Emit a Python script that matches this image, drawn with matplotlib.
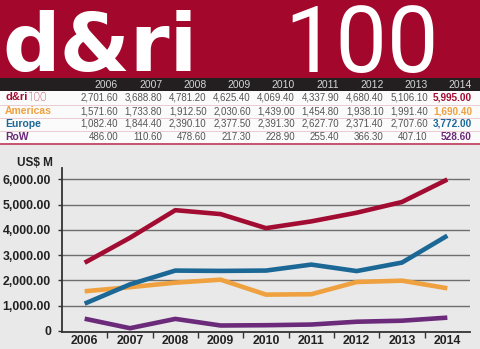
import numpy as np
import matplotlib.pyplot as plt
from matplotlib.patches import Rectangle
from matplotlib.ticker import FixedLocator, FuncFormatter

# Data (US$ M)
years = [2006, 2007, 2008, 2009, 2010, 2011, 2012, 2013, 2014]
dari = [2701.60, 3688.80, 4781.20, 4625.40, 4069.40, 4337.90, 4680.40, 5106.10, 5995.00]
americas = [1571.60, 1733.80, 1912.50, 2030.60, 1439.00, 1454.80, 1938.10, 1991.40, 1690.40]
europe = [1082.40, 1844.40, 2390.10, 2377.50, 2391.30, 2627.70, 2371.40, 2707.60, 3772.00]
rest = [486.00, 110.60, 478.60, 217.30, 228.90, 255.40, 366.30, 407.10, 528.60]

row_names = ["d&ri", "Americas", "Europe", "RoW"]
series = [dari, americas, europe, rest]
colors = ["#a30c32", "#efa13f", "#1b6896", "#6b2a7a"]

BANNER = "#a3082c"
DARK = "#231f20"
CHART_BG = "#e9e9e9"

fig = plt.figure(figsize=(4.8, 3.49), dpi=100)
fig.patch.set_facecolor(CHART_BG)

# background axes in pixel coords for the banner and table
bg = fig.add_axes([0, 0, 1, 1])
bg.set_xlim(0, 480)
bg.set_ylim(349, 0)
bg.axis("off")

bg.add_patch(Rectangle((0, 0), 480, 78, color=BANNER, lw=0))
bg.text(2, 71, "d&ri", color="white", fontsize=58, fontweight="heavy",
        family="DejaVu Sans", va="baseline", ha="left")
bg.text(362, 72, "100", color="white", fontsize=66, fontweight="normal",
        family=["Roboto", "DejaVu Sans"], va="baseline", ha="center")

# header band
bg.add_patch(Rectangle((0, 78), 480, 13, color=DARK, lw=0))
# table rows
bg.add_patch(Rectangle((0, 91), 480, 52, color="#fbfbfb", lw=0))
row_top = [91, 104.5, 117.5, 130.5]
for y in row_top[1:]:
    bg.plot([0, 480], [y, y], color="#e8c4cc", lw=0.6)
bg.plot([0, 480], [143.5, 143.5], color="#c23a5a", lw=1.2)

col_right = [118 + i * 44.25 for i in range(len(years))]
for x, yr in zip(col_right, years):
    bg.text(x, 85, str(yr), color="#d6d6d6", fontsize=7.5,
            family="Liberation Sans", ha="right", va="center")

for r, (name, vals, c) in enumerate(zip(row_names, series, colors)):
    yc = row_top[r] + 6.5
    if r == 0:
        bg.text(5, yc, name, color=c, fontsize=8, fontweight="bold",
                family="Liberation Sans", ha="left", va="center")
        bg.text(28, yc, "100", color=c, fontsize=8.5, fontweight="light",
                family=["Roboto", "DejaVu Sans"], ha="left", va="center")
    else:
        bg.text(5, yc, name, color=c, fontsize=7.5, fontweight="bold",
                family="Liberation Sans", ha="left", va="center")
    for i, (x, v) in enumerate(zip(col_right, vals)):
        last = i == len(vals) - 1
        bg.text(x, yc, f"{v:,.2f}", color=c if last else "#555555",
                fontsize=7 if not last else 7.2,
                fontweight="bold" if last else "normal",
                family="Liberation Sans", ha="right", va="center")

# line chart
ax = fig.add_axes([62 / 480, 17 / 349, 408 / 480, 164 / 349])
ax.set_facecolor(CHART_BG)
x = np.arange(len(years))
ax.set_xlim(-0.5, len(years) - 0.5)
ax.set_ylim(-40, 6450)

for g in range(1000, 7000, 1000):
    ax.axhline(g, color="#6e6e6e", lw=1.0, zorder=1)

for vals, c in zip(series, colors):
    ax.plot(x, vals, color=c, lw=3.3, solid_capstyle="butt",
            solid_joinstyle="round", zorder=3)

ax.set_xticks(x)
ax.set_xticklabels([str(y) for y in years])
ax.xaxis.set_minor_locator(FixedLocator(np.arange(0.5, len(years) - 1, 1)))
ax.tick_params(axis="x", which="major", length=0, pad=2)
ax.tick_params(axis="x", which="minor", length=4, direction="out",
               color="#333333", width=1)

ax.set_yticks(range(0, 7000, 1000))
ax.yaxis.set_major_formatter(FuncFormatter(
    lambda v, p: "0" if v == 0 else f"{v:,.2f}"))
ax.tick_params(axis="y", length=3, direction="out", color="#333333",
               width=1, pad=5)

for lab in ax.get_xticklabels() + ax.get_yticklabels():
    lab.set_family("Liberation Sans")
    lab.set_fontweight("bold")
    lab.set_fontsize(8.8)
    lab.set_color("#222222")

for s in ["top", "right"]:
    ax.spines[s].set_visible(False)
for s in ["left", "bottom"]:
    ax.spines[s].set_color("#333333")
    ax.spines[s].set_linewidth(1.3)

bg.text(53, 166, "US$ M", color="#222222", fontsize=8.5, fontweight="bold",
        family="Liberation Sans", ha="right", va="baseline")

fig.savefig("out.png", dpi=100, facecolor=CHART_BG)
